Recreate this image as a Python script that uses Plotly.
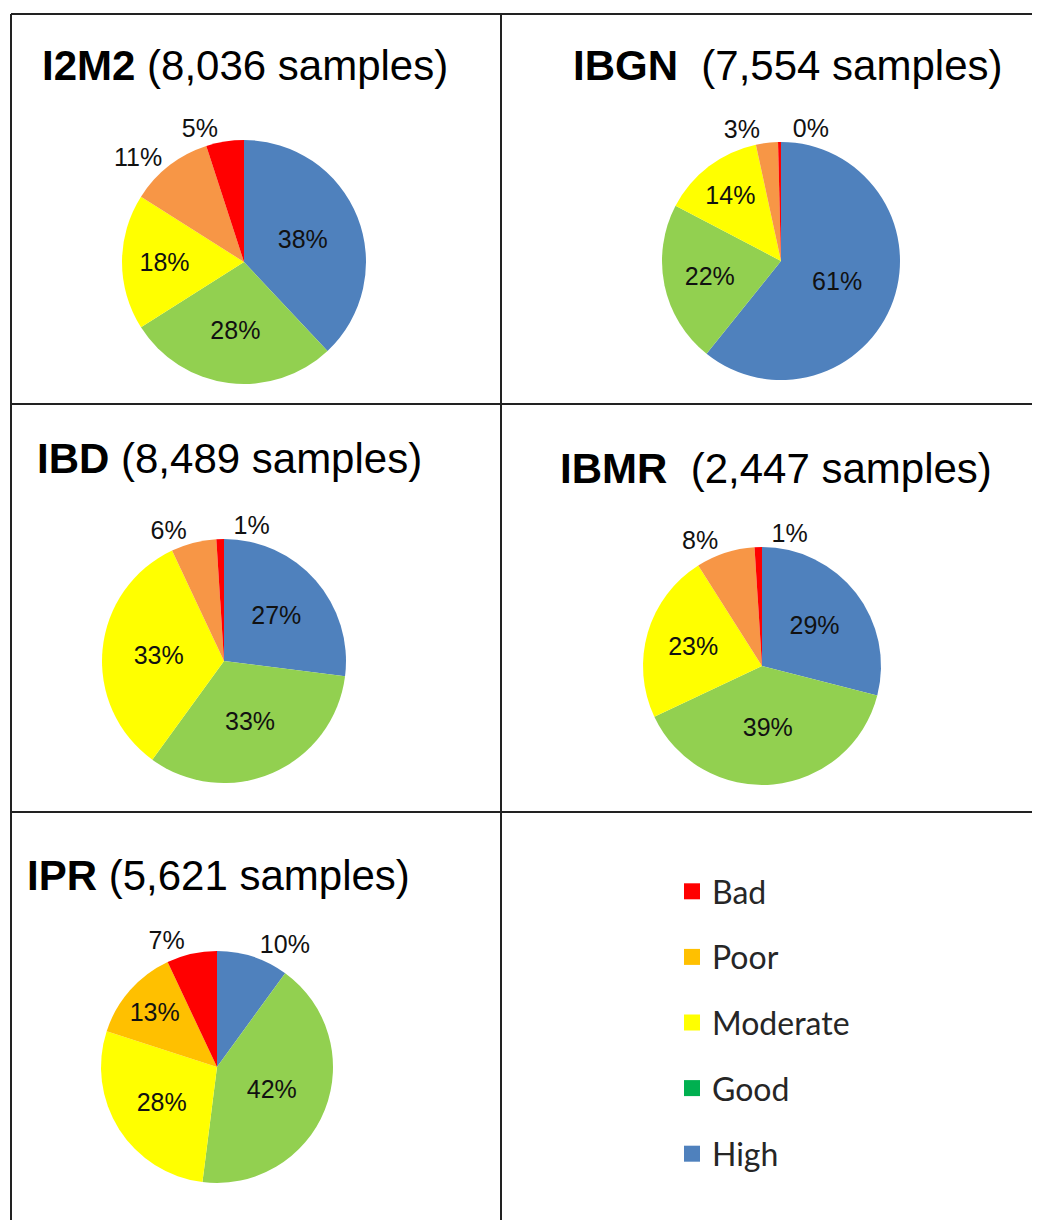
import plotly.graph_objects as go

# the page body adds an 8px margin, so the figure is drawn 8px in from the corner
OFF = 8
W, H = 1040 - OFF, 1220 - OFF

categories = ["High", "Good", "Moderate", "Poor", "Bad"]

i2m2_values = [38, 28, 18, 11, 5]
ibgn_values = [61, 22, 14, 3, 0.4]
ibd_values = [27, 33, 33, 6, 1]
ibmr_values = [29, 39, 23, 8, 1]
ipr_values = [10, 42, 28, 13, 7]

titles = [
    "<b>I2M2</b> (8,036 samples)",
    "<b>IBGN</b>  (7,554 samples)",
    "<b>IBD</b> (8,489 samples)",
    "<b>IBMR</b>  (2,447 samples)",
    "<b>IPR</b> (5,621 samples)",
]

legend_labels = ["Bad", "Poor", "Moderate", "Good", "High"]
legend_colors = ["#FF0000", "#FFC000", "#FFFF00", "#00B050", "#4F81BD"]

pie_colors = ["#4F81BD", "#92D050", "#FFFF00", "#F79646", "#FF0000"]
ipr_colors = ["#4F81BD", "#92D050", "#FFFF00", "#FFC000", "#FF0000"]


def px(x):
    return (x - OFF) / W


def py(y):
    return 1 - (y - OFF) / H


IN, OUT = "inside", "outside"
# values, pie centre (px), radius (px), text positions, colours, split Bad label
panels = [
    (i2m2_values, (244, 262), 122, [IN, IN, IN, OUT, OUT], pie_colors, False),
    (ibgn_values, (781, 261), 119, [IN, IN, IN, OUT, OUT], pie_colors, True),
    (ibd_values, (224, 661), 122, [IN, IN, IN, OUT, OUT], pie_colors, True),
    (ibmr_values, (762, 666), 119, [IN, IN, IN, OUT, OUT], pie_colors, True),
    (ipr_values, (217, 1067), 116, [OUT, IN, IN, IN, OUT], ipr_colors, False),
]

label_font = dict(family="Liberation Sans, Arial", size=25, color="#111111")

fig = go.Figure()

for values, (cx, cy), r, tpos, cols, split in panels:
    dom = dict(x=[px(cx - r), px(cx + r)], y=[py(cy + r), py(cy - r)])
    main_pos = tpos[:4] + ["none"] if split else tpos
    fig.add_trace(go.Pie(
        labels=categories,
        values=values,
        sort=False,
        direction="clockwise",
        rotation=0,
        marker=dict(colors=cols, line=dict(width=0)),
        texttemplate="%{value:.0f}%",
        textposition=main_pos,
        insidetextorientation="horizontal",
        textfont=label_font,
        showlegend=False,
        domain=dom,
        hoverinfo="label+percent",
    ))
    if split:
        # tiny "Bad" slice: label drawn from a transparent copy turned a few
        # degrees so it sits to the right of the "Poor" label, not on top of it
        fig.add_trace(go.Pie(
            labels=categories,
            values=values,
            sort=False,
            direction="clockwise",
            rotation=3,
            marker=dict(colors=["rgba(0,0,0,0)"] * 5, line=dict(width=0)),
            texttemplate="%{value:.0f}%",
            textposition=["none"] * 4 + [OUT],
            textfont=label_font,
            showlegend=False,
            domain=dom,
            hoverinfo="skip",
        ))

# legend entries (separate colours from the pies)
for lab, col in zip(legend_labels, legend_colors):
    fig.add_trace(go.Scatter(
        x=[None], y=[None], mode="markers", name=lab,
        legendgroup=lab,
        marker=dict(symbol="square", size=19, color=col),
    ))

# panel titles
title_pos = [
    (40, 65, "left"),
    (787, 65, "center"),
    (35, 458, "left"),
    (558, 468, "left"),
    (25, 875, "left"),
]
for t, (x, y, anchor) in zip(titles, title_pos):
    fig.add_annotation(
        text=t, x=px(x), y=py(y), xref="paper", yref="paper",
        xanchor=anchor, yanchor="middle", showarrow=False,
        font=dict(family="Liberation Sans, Arial", size=42, color="#000000"),
    )

# table grid lines
line = dict(color="#222222", width=2)
for yy in [14, 404, 812]:
    fig.add_shape(type="line", xref="paper", yref="paper",
                  x0=px(11), x1=1, y0=py(yy), y1=py(yy), line=line)
for xx in [11, 501]:
    fig.add_shape(type="line", xref="paper", yref="paper",
                  x0=px(xx), x1=px(xx), y0=py(14), y1=0, line=line)

fig.update_layout(
    width=W,
    height=H,
    margin=dict(l=0, r=0, t=0, b=0),
    paper_bgcolor="white",
    plot_bgcolor="white",
    xaxis=dict(visible=False, domain=[0.6, 0.61]),
    yaxis=dict(visible=False, domain=[0.1, 0.11]),
    legend=dict(
        x=px(672), y=py(864), xanchor="left", yanchor="top",
        font=dict(family="Lato, Carlito, Calibri", size=32, color="#262626"),
        traceorder="grouped",
        tracegroupgap=21,
        itemwidth=30,
        bgcolor="rgba(0,0,0,0)",
    ),
    showlegend=True,
)

fig.write_html("out.html")
